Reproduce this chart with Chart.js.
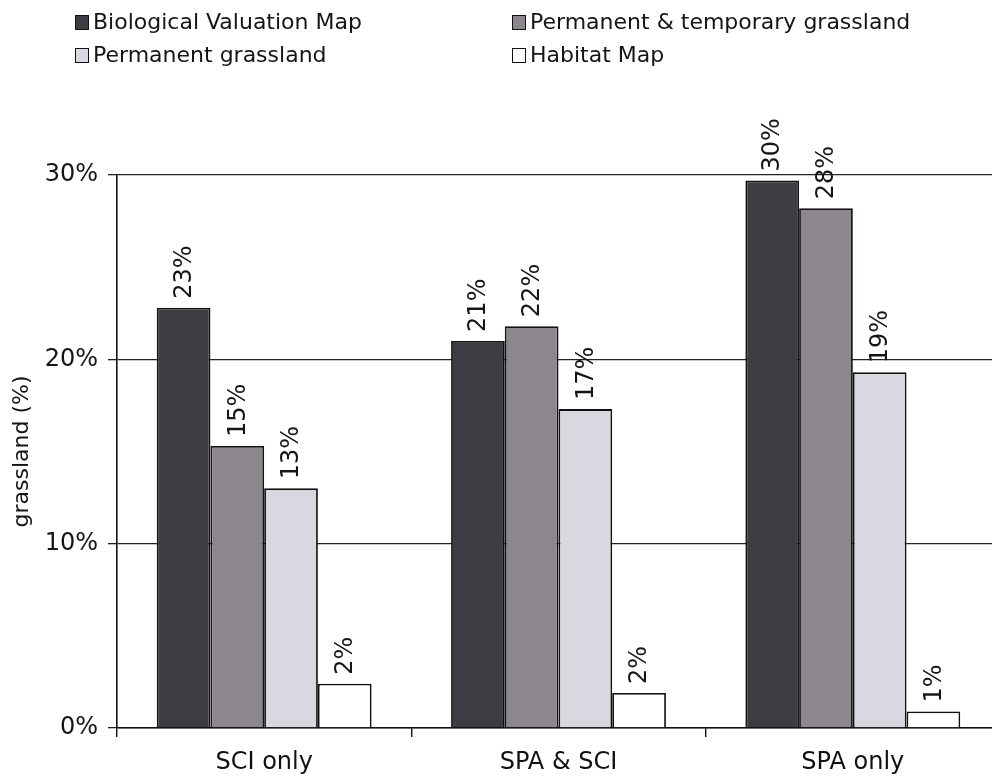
<!DOCTYPE html>
<html lang="en">
<head>
    <meta charset="UTF-8">
    <title>Grassland share by Natura 2000 area type</title>
    <style>
        html, body {
            margin: 0;
            padding: 0;
            background-color: #fff;
            overflow: hidden;
            font-family: "DejaVu Sans", Verdana, sans-serif;
        }
        .wrap {
            position: relative;
            width: 992px;
            height: 777px;
            overflow: hidden;
        }
        .chart-box {
            position: absolute;
            left: 0;
            top: 0;
            width: 1010px;
            height: 777px;
        }
        .legend {
            position: absolute;
            left: 0;
            top: 0;
            font-size: 22px;
            color: #151515;
        }
        .legend .item {
            position: absolute;
            white-space: nowrap;
            line-height: 26px;
        }
        .legend .swatch {
            display: inline-block;
            box-sizing: border-box;
            width: 14px;
            height: 15px;
            border: 1.6px solid #111;
            margin-right: 4px;
            vertical-align: -1px;
        }
    </style>
</head>
<body>
    <div class="wrap">
        <div class="chart-box"><canvas id="chart" width="1010" height="777"></canvas></div>
        <div class="legend" id="legend"></div>
    </div>

    <script src="https://cdn.jsdelivr.net/npm/chart.js"></script>

    <script>
      // data (percent of area that is grassland)
      const categories = ['SCI only', 'SPA & SCI', 'SPA only'];
      const seriesNames = ['Biological Valuation Map', 'Permanent & temporary grassland', 'Permanent grassland', 'Habitat Map'];
      const biologicalValuation = [22.8, 21.0, 29.7];
      const permTempGrassland = [15.3, 21.8, 28.2];
      const permGrassland = [13.0, 17.3, 19.3];
      const habitatMap = [2.4, 1.9, 0.9];
      const yTicks = [0, 10, 20, 30];

      const colors = ['#3d3c43', '#8b878d', '#d9d8e0', '#ffffff'];
      const seriesValues = [biologicalValuation, permTempGrassland, permGrassland, habitatMap];

      // legend in two columns like the original
      const legendPos = [[75, 9], [512, 9], [75, 42], [512, 42]];
      const legendEl = document.getElementById('legend');
      seriesNames.forEach((name, i) => {
          const item = document.createElement('div');
          item.className = 'item';
          item.style.left = legendPos[i][0] + 'px';
          item.style.top = legendPos[i][1] + 'px';
          item.innerHTML = `<span class="swatch" style="background:${colors[i]}"></span>${name}`;
          legendEl.appendChild(item);
      });

      // rotated value labels above each bar
      const barLabels = {
          id: 'barLabels',
          afterDatasetsDraw(chart) {
              const ctx = chart.ctx;
              ctx.save();
              ctx.font = '24px "DejaVu Sans", sans-serif';
              ctx.fillStyle = '#151515';
              ctx.textAlign = 'left';
              ctx.textBaseline = 'middle';
              chart.data.datasets.forEach((ds, di) => {
                  chart.getDatasetMeta(di).data.forEach((bar, i) => {
                      ctx.save();
                      ctx.translate(bar.x + 1, bar.y - 9);
                      ctx.rotate(-Math.PI / 2);
                      ctx.fillText(Math.round(ds.data[i]) + '%', 0, 0);
                      ctx.restore();
                  });
              });
              ctx.restore();
          }
      };

      new Chart(document.getElementById('chart').getContext('2d'), {
          type: 'bar',
          data: {
              labels: categories,
              datasets: seriesNames.map((name, i) => ({
                  label: name,
                  data: seriesValues[i],
                  backgroundColor: colors[i],
                  borderColor: '#111',
                  borderWidth: 1.8,
                  categoryPercentage: 0.73,
                  barPercentage: 1.0
              }))
          },
          options: {
              responsive: false,
              animation: false,
              layout: { padding: { top: 175, left: 0, right: 10, bottom: 0 } },
              plugins: {
                  legend: { display: false },
                  tooltip: { enabled: false }
              },
              scales: {
                  x: {
                      grid: {
                          offset: true,
                          drawOnChartArea: false,
                          drawTicks: true,
                          tickLength: 9,
                          color: '#111',
                          lineWidth: 1.4
                      },
                      border: { color: '#111', width: 1.6 },
                      ticks: {
                          color: '#111',
                          padding: 11,
                          font: { family: '"DejaVu Sans", sans-serif', size: 24 }
                      },
                      afterFit(scale) { scale.height = 777 - 728; }
                  },
                  y: {
                      min: 0,
                      max: 30,
                      afterBuildTicks(scale) {
                          scale.ticks = yTicks.map(v => ({ value: v }));
                      },
                      ticks: {
                          color: '#151515',
                          padding: 10,
                          font: { family: '"DejaVu Sans", sans-serif', size: 24 },
                          callback: v => v + '%'
                      },
                      grid: {
                          color: '#222',
                          lineWidth: 1.3,
                          tickLength: 9
                      },
                      border: { color: '#111', width: 1.6 },
                      title: {
                          display: true,
                          text: 'grassland (%)',
                          color: '#151515',
                          padding: { top: 9, bottom: 0 },
                          font: { family: '"DejaVu Sans", sans-serif', size: 22 }
                      },
                      afterFit(scale) { scale.width = 117; }
                  }
              }
          },
          plugins: [barLabels]
      });
    </script>
</body>
</html>
